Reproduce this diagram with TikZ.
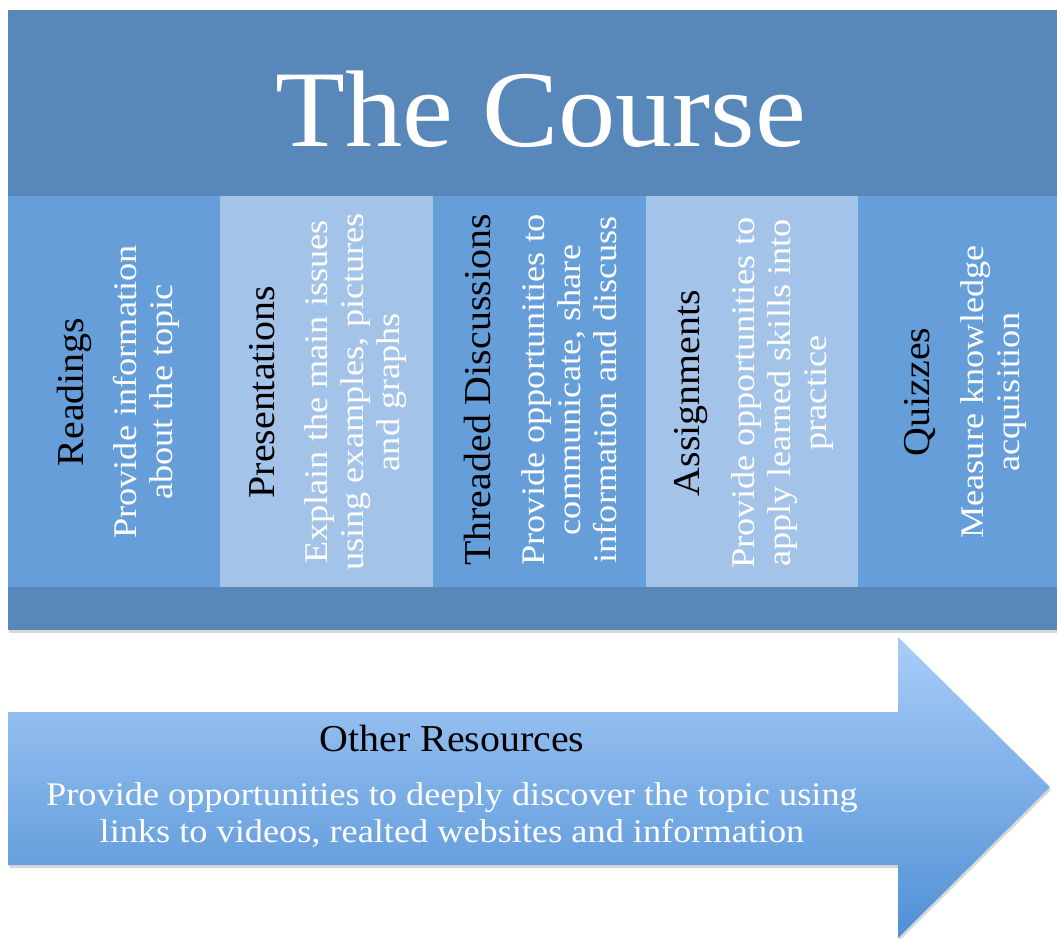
\documentclass[tikz,border=0pt]{standalone}
\usepackage{fontspec}
\setmainfont{Liberation Serif}
\newfontfamily\bodyfont[FakeStretch=1.1]{Liberation Serif}
\newfontfamily\headfont[FakeStretch=1.05]{Liberation Serif}
\usetikzlibrary{shadows}
\definecolor{band}{HTML}{5887B9}
\definecolor{darkcol}{HTML}{669EDA}
\definecolor{lightcol}{HTML}{A3C3E8}
\definecolor{arrowtop}{HTML}{A9CDF8}
\definecolor{arrowbot}{HTML}{5090D5}
\begin{document}
\begin{tikzpicture}[x=1pt,y=-1pt,
  coltitle/.style={rotate=90, text=black, inner sep=0pt,
    font=\headfont\fontsize{38}{44}\selectfont},
  colbody/.style={rotate=90, text=white, align=center, inner sep=0pt,
    font=\bodyfont\fontsize{33}{36}\selectfont},
  softshadow/.style={drop shadow={opacity=0.3, shadow xshift=1pt, shadow yshift=-3pt}}]
\useasboundingbox (0,0) rectangle (1057,938);
\fill[white] (0,0) rectangle (1057,938);
% container
\fill[band, softshadow] (8,10) rectangle (1057,630);
\fill[darkcol]  (8,196)   rectangle (220,587);
\fill[lightcol] (220,196) rectangle (433,587);
\fill[darkcol]  (433,196) rectangle (646,587);
\fill[lightcol] (646,196) rectangle (858,587);
\fill[darkcol]  (858,196) rectangle (1057,587);
\node[text=white, inner sep=0pt, anchor=base, font=\headfont\fontsize{109}{120}\selectfont] (title) at (541,146) {The Course};
% columns
\node[coltitle] (t1) at (74,392) {Readings};
\node[colbody]  (b1) at (146,392) {Provide information\\about the topic};
\node[coltitle] (t2) at (262,392) {Presentations};
\node[colbody]  (b2) at (356,392) {Explain the main issues\\using examples, pictures\\and graphs};
\node[coltitle] (t3) at (477,390) {Threaded Discussions};
\node[colbody]  (b3) at (569,390) {Provide opportunities to\\communicate, share\\information and discuss};
\node[coltitle] (t4) at (691,393) {Assignments};
\node[colbody]  (b4) at (783,393) {Provide opportunities to\\apply learned skills into\\practice};
\node[coltitle] (t5) at (920,392) {Quizzes};
\node[colbody]  (b5) at (994,392) {Measure knowledge\\acquisition};
% arrow
\path[top color=arrowtop, bottom color=arrowbot, softshadow]
  (8,712) -- (898,712) -- (898,637) -- (1050,787) -- (898,938) -- (898,865) -- (8,865) -- cycle;
\node[text=black, inner sep=0pt, anchor=base, font=\headfont\fontsize{38}{44}\selectfont] (other) at (452,751) {Other Resources};
\node[text=white, inner sep=0pt, anchor=base, align=center, font=\bodyfont\fontsize{33}{37}\selectfont] (otherbody) at (452,842) {Provide opportunities to deeply discover the topic using\\links to videos, realted websites and information};
\end{tikzpicture}
\end{document}
